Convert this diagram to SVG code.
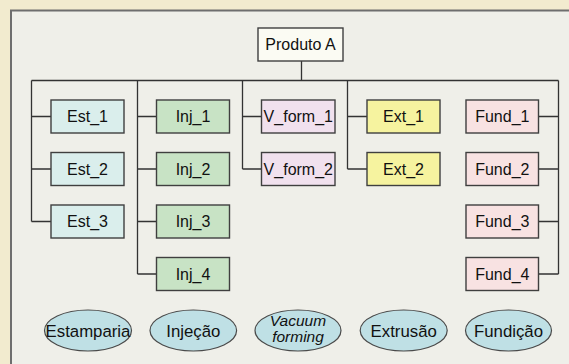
<svg xmlns="http://www.w3.org/2000/svg" width="569" height="364" viewBox="0 0 569 364">
<style>
.bx{stroke:#3f3f3f;stroke-width:1.4}
.t{font-family:"Liberation Sans",Arial,sans-serif;font-size:16px;fill:#111;text-anchor:middle}
.te{font-family:"Liberation Sans",Arial,sans-serif;font-size:16.8px;fill:#111;text-anchor:middle}
.ti{font-family:"Liberation Sans",Arial,sans-serif;font-size:15.5px;font-style:italic;fill:#111;text-anchor:middle}
.est{fill:#daeeec}
.inj{fill:#c8e3c5}
.vf{fill:#f1e1ee}
.ext{fill:#f6f39f}
.fund{fill:#f8e2e2}
.el{fill:#bfe0e5;stroke:#4a4a4a;stroke-width:1.2}
#connectors path{fill:none;stroke:#333;stroke-width:1.3}
</style>
<rect x="0" y="0" width="569" height="364" fill="#f2ebcf"/>
<rect x="11" y="10.5" width="620" height="420" fill="#efefe9" stroke="#6e6e6e" stroke-width="2"/>
<g id="connectors">
<path d="M301.5 61V80.5M31.5 80.5H558.5"/>
<path d="M31.5 80.5V221.5M31.5 116.5H51M31.5 169H51M31.5 221.5H51"/>
<path d="M137.5 80.5V274M137.5 116.5H156.5M137.5 169H156.5M137.5 221.5H156.5M137.5 274H156.5"/>
<path d="M242.5 80.5V169M242.5 116.5H261.5M242.5 169H261.5"/>
<path d="M347.5 80.5V169M347.5 116.5H367M347.5 169H367"/>
<path d="M558.5 80.5V274M538.5 116.5H558.5M538.5 169H558.5M538.5 221.5H558.5M538.5 274H558.5"/>
</g>
<g id="produto"><rect class="bx" x="258" y="28" width="85" height="33" fill="#fbfbf3"/><text class="t" x="300.5" y="50.3">Produto A</text></g>
<g id="est1"><rect class="bx est" x="51" y="100" width="73" height="33"/><text class="t" x="87.5" y="122.3">Est_1</text></g>
<g id="est2"><rect class="bx est" x="51" y="152.5" width="73" height="33"/><text class="t" x="87.5" y="174.8">Est_2</text></g>
<g id="est3"><rect class="bx est" x="51" y="205" width="73" height="33"/><text class="t" x="87.5" y="227.3">Est_3</text></g>
<g id="inj1"><rect class="bx inj" x="156.5" y="100" width="73" height="33"/><text class="t" x="193" y="122.3">Inj_1</text></g>
<g id="inj2"><rect class="bx inj" x="156.5" y="152.5" width="73" height="33"/><text class="t" x="193" y="174.8">Inj_2</text></g>
<g id="inj3"><rect class="bx inj" x="156.5" y="205" width="73" height="33"/><text class="t" x="193" y="227.3">Inj_3</text></g>
<g id="inj4"><rect class="bx inj" x="156.5" y="257.5" width="73" height="33"/><text class="t" x="193" y="279.8">Inj_4</text></g>
<g id="vform1"><rect class="bx vf" x="261.5" y="100" width="73.5" height="33"/><text class="t" x="298.3" y="122.3">V_form_1</text></g>
<g id="vform2"><rect class="bx vf" x="261.5" y="152.5" width="73.5" height="33"/><text class="t" x="298.3" y="174.8">V_form_2</text></g>
<g id="ext1"><rect class="bx ext" x="367" y="100" width="73" height="33"/><text class="t" x="403.5" y="122.3">Ext_1</text></g>
<g id="ext2"><rect class="bx ext" x="367" y="152.5" width="73" height="33"/><text class="t" x="403.5" y="174.8">Ext_2</text></g>
<g id="fund1"><rect class="bx fund" x="466" y="100" width="72.5" height="33"/><text class="t" x="502.3" y="122.3">Fund_1</text></g>
<g id="fund2"><rect class="bx fund" x="466" y="152.5" width="72.5" height="33"/><text class="t" x="502.3" y="174.8">Fund_2</text></g>
<g id="fund3"><rect class="bx fund" x="466" y="205" width="72.5" height="33"/><text class="t" x="502.3" y="227.3">Fund_3</text></g>
<g id="fund4"><rect class="bx fund" x="466" y="257.5" width="72.5" height="33"/><text class="t" x="502.3" y="279.8">Fund_4</text></g>
<g id="estamparia"><ellipse class="el" cx="88" cy="330.5" rx="43.5" ry="20.5"/><text class="te" x="88" y="336.5">Estamparia</text></g>
<g id="injecao"><ellipse class="el" cx="193.3" cy="330.5" rx="43.3" ry="20.5"/><text class="te" x="193.3" y="336.5">Injeção</text></g>
<g id="vacuum"><ellipse class="el" cx="298" cy="330.5" rx="43" ry="20.5"/><text class="ti" x="298" y="325.5">Vacuum</text><text class="ti" x="298" y="341.5">forming</text></g>
<g id="extrusao"><ellipse class="el" cx="403.7" cy="330.5" rx="43.5" ry="20.5"/><text class="te" x="403.7" y="336.5">Extrusão</text></g>
<g id="fundicao"><ellipse class="el" cx="508.5" cy="330.5" rx="43" ry="20.5"/><text class="te" x="508.5" y="336.5">Fundição</text></g>
</svg>
